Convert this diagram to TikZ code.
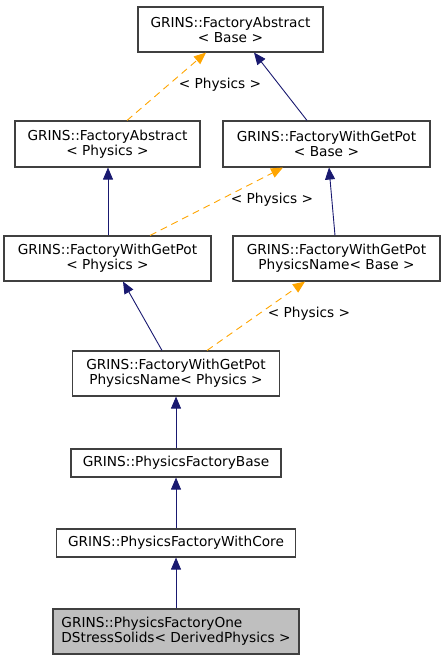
\documentclass[tikz,border=0pt]{standalone}
\usepackage{fontspec}
\setmainfont{DejaVu Sans}
\usetikzlibrary{arrows.meta}
\definecolor{navy}{HTML}{191970}
\definecolor{dorange}{HTML}{FFA500}
\definecolor{bord}{HTML}{404040}
\begin{document}
\begin{tikzpicture}[x=1pt,y=-1pt,
  box/.style={draw=bord,line width=1.1pt,fill=white,inner sep=0pt,align=center,
    font=\fontsize{13.7}{15}\selectfont},
  inh/.style={draw=navy,line width=0.9pt,-{Triangle[length=12pt,width=10pt,fill=navy]}},
  tmpl/.style={draw=dorange,line width=0.9pt,dash pattern=on 7pt off 5pt,
    -{Triangle[length=12pt,width=10pt,fill=dorange]}},
  lbl/.style={font=\fontsize{13.7}{15}\selectfont,inner sep=0pt}]
\useasboundingbox (0,0) rectangle (445,661);
\node[box,minimum width=185pt,minimum height=45pt] (n1) at (230.5,29.5) {GRINS::FactoryAbstract\\{<} Base {>}};
\node[box,minimum width=185pt,minimum height=46pt] (n2) at (107.5,144) {GRINS::FactoryAbstract\\{<} Physics {>}};
\node[box,minimum width=207pt,minimum height=46pt] (n3) at (326.5,144) {GRINS::FactoryWithGetPot\\{<} Base {>}};
\node[box,minimum width=207pt,minimum height=45pt] (n4) at (107.5,258.5) {GRINS::FactoryWithGetPot\\{<} Physics {>}};
\node[box,minimum width=207pt,minimum height=45pt] (n5) at (336.5,258.5) {GRINS::FactoryWithGetPot\\PhysicsName{<} Base {>}};
\node[box,minimum width=207pt,minimum height=45pt] (n6) at (176,373.5) {GRINS::FactoryWithGetPot\\PhysicsName{<} Physics {>}};
\node[box,minimum width=210pt,minimum height=28pt] (n7) at (176,463) {GRINS::PhysicsFactoryBase};
\node[box,minimum width=239pt,minimum height=28pt] (n8) at (176,543) {GRINS::PhysicsFactoryWithCore};
\node[box,fill={rgb,255:red,191;green,191;blue,191},align=left,minimum width=246pt,minimum height=45pt] (n9) at (176,631.5) {GRINS::PhysicsFactoryOne\\DStressSolids{<} DerivedPhysics {>}};
% edges
\draw[tmpl] ([xshift=19.5pt]n2.north) -- ([xshift=-24.5pt]n1.south);
\draw[inh] ([xshift=-19.5pt]n3.north) -- ([xshift=23.5pt]n1.south);
\draw[inh] ([xshift=0.5pt]n4.north) -- ([xshift=0.5pt]n2.south);
\draw[tmpl] ([xshift=42.5pt]n4.north) -- ([xshift=-43.5pt]n3.south);
\draw[inh] ([xshift=-1.5pt]n5.north) -- ([xshift=2.5pt]n3.south);
\draw[inh] ([xshift=-14pt]n6.north) -- ([xshift=15.5pt]n4.south);
\draw[tmpl] ([xshift=31pt]n6.north) -- ([xshift=-31.5pt]n5.south);
\draw[inh] (n7.north) -- (n6.south);
\draw[inh] (n8.north) -- (n7.south);
\draw[inh] (n9.north) -- (n8.south);
% labels
\node[lbl] (l1) at (220,85) {{<} Physics {>}};
\node[lbl] (l2) at (272,200) {{<} Physics {>}};
\node[lbl] (l3) at (309,314) {{<} Physics {>}};
\end{tikzpicture}
\end{document}
